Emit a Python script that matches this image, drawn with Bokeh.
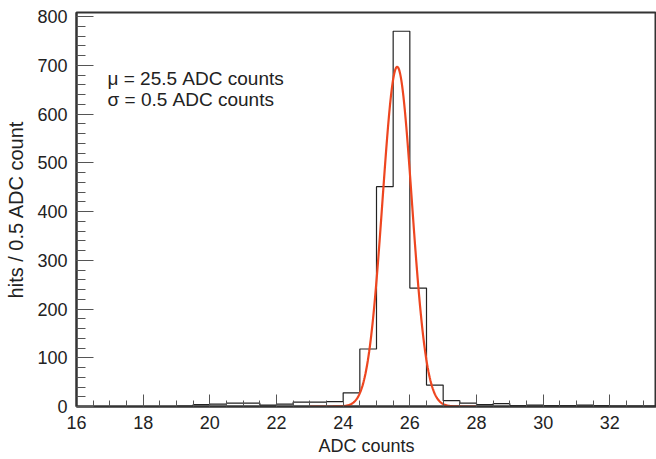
import numpy as np
from bokeh.plotting import figure
from bokeh.models import Range1d, SingleIntervalTicker, Label
from bokeh.embed import file_html
from bokeh.resources import INLINE

# histogram: bin low edges (width 0.5) and counts
bin_width = 0.5
bin_low = [16.0, 16.5, 17.0, 17.5, 18.0, 18.5, 19.0, 19.5, 20.0, 20.5, 21.0, 21.5,
           22.0, 22.5, 23.0, 23.5, 24.0, 24.5, 25.0, 25.5, 26.0, 26.5, 27.0, 27.5,
           28.0, 28.5, 29.0, 29.5, 30.0, 30.5, 31.0, 31.5, 32.0, 32.5, 33.0]
counts = [0, 0, 0, 0, 0, 0, 1, 4, 5, 7, 7, 3,
          5, 9, 9, 10, 28, 118, 451, 770, 243, 44, 12, 7,
          4, 6, 2, 3, 2, 2, 3, 2, 1, 1, 1]

# gaussian fit parameters
fit_amp = 697.0
fit_mean = 25.62
fit_sigma = 0.44
fit_range = [23.0, 28.0]

stat_lines = ["\u03bc = 25.5 ADC counts", "\u03c3 = 0.5 ADC counts"]

FONT = "Liberation Sans"

p = figure(width=656, height=459, output_backend="svg", toolbar_location=None,
           x_range=Range1d(16, 33.4), y_range=Range1d(0, 808.5),
           min_border_left=76, min_border_right=0, min_border_top=12, min_border_bottom=53)
p.background_fill_color = "white"
p.border_fill_color = "white"
p.outline_line_color = "#333333"
p.outline_line_width = 2
p.xgrid.visible = False
p.ygrid.visible = False

# histogram outline
edges = np.array(bin_low + [bin_low[-1] + bin_width])
c = np.array(counts, dtype=float)
xs = np.concatenate([[edges[0]], np.repeat(edges, 2), [edges[-1]]])
ys = np.concatenate([[0.0, 0.0], np.repeat(c, 2), [0.0]])
p.line(xs, ys, line_color="#222222", line_width=1.2)

# fit curve
fx = np.linspace(fit_range[0], fit_range[1], 400)
fy = fit_amp * np.exp(-0.5 * ((fx - fit_mean) / fit_sigma) ** 2)
p.line(fx, fy, line_color="#ee4620", line_width=2.2)

# axes
for ax in (p.xaxis[0], p.yaxis[0]):
    ax.axis_line_color = "#333333"
    ax.axis_line_width = 2
    ax.major_tick_line_color = "#555555"
    ax.minor_tick_line_color = "#555555"
    ax.major_tick_line_width = 1
    ax.minor_tick_line_width = 1
    ax.major_tick_out = 0
    ax.minor_tick_out = 0
    ax.major_label_text_font = FONT
    ax.major_label_text_font_size = "18px"
    ax.major_label_text_color = "#222222"
    ax.axis_label_text_font = FONT
    ax.axis_label_text_font_style = "normal"
    ax.axis_label_text_color = "#222222"

p.xaxis.axis_label_text_font_size = "18px"
p.yaxis.axis_label_text_font_size = "20px"
p.xaxis.ticker = SingleIntervalTicker(interval=2, num_minor_ticks=4)
p.yaxis.ticker = SingleIntervalTicker(interval=100, num_minor_ticks=5)
p.xaxis.major_tick_in = 12
p.xaxis.minor_tick_in = 6
p.yaxis.major_tick_in = 17
p.yaxis.minor_tick_in = 9
p.xaxis.major_label_standoff = 9
p.yaxis.major_label_standoff = 9
p.xaxis.axis_label = "ADC counts"
p.yaxis.axis_label = "hits / 0.5 ADC count"
p.xaxis.axis_label_standoff = 4
p.yaxis.axis_label_standoff = 7

for i, t in enumerate(stat_lines):
    p.add_layout(Label(x=31, y=328 - 21 * i, x_units="screen", y_units="screen", text=t,
                       text_font=FONT, text_font_size="19px", text_color="#222222",
                       text_baseline="alphabetic"))

open("out.html", "w").write(file_html(p, INLINE))
